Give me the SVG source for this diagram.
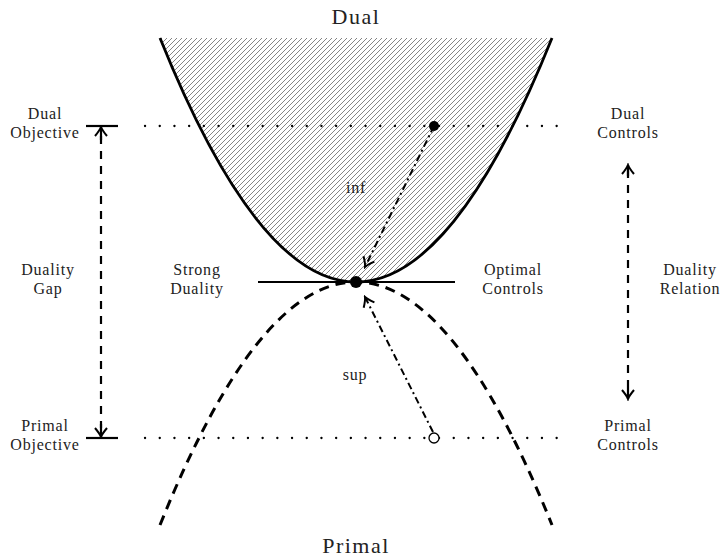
<svg xmlns="http://www.w3.org/2000/svg" width="722" height="558" viewBox="0 0 722 558">
<style>
text{font-family:"Liberation Serif","DejaVu Serif",serif;fill:#222;text-anchor:middle}
.lbl{font-size:16px;letter-spacing:0.8px}
.big{font-size:22px;letter-spacing:1.5px}
.dot{stroke:#000;stroke-width:2.3;stroke-dasharray:0.1,14.6;stroke-linecap:round;fill:none}
.dash{stroke:#000;stroke-width:2.2;stroke-dasharray:8,7;fill:none}
.dd{stroke:#000;stroke-width:2;stroke-dasharray:7,3.5,2,3.5;fill:none}
</style>
<defs>
<pattern id="hatch" patternUnits="userSpaceOnUse" width="5" height="5">
<path d="M-1,1 l2,-2 M0,5 l5,-5 M4,6 l2,-2" stroke="#666" stroke-width="0.8"/>
</pattern>
<marker id="arr" viewBox="-11 -7 13 14" markerWidth="13" markerHeight="14" refX="0" refY="0" orient="auto" markerUnits="userSpaceOnUse">
<path d="M-9,-6 Q-3,-1 0,0 Q-3,1 -9,6" fill="none" stroke="#000" stroke-width="2"/>
</marker>
</defs>
<g id="dual-region">
<path d="M160,38 Q356,526 552,38 Z" fill="url(#hatch)" stroke="none"/>
<path d="M160,38 Q356,526 552,38" fill="none" stroke="#000" stroke-width="2.8"/>
</g>
<g id="primal-curve">
<path d="M160,525 Q356,39 552,525" fill="none" stroke="#000" stroke-width="3" stroke-dasharray="10,7"/>
</g>
<g id="levels">
<line class="dot" x1="145" y1="126" x2="570" y2="126"/>
<line class="dot" x1="145" y1="438" x2="570" y2="438"/>
<line x1="86" y1="126" x2="118" y2="126" stroke="#000" stroke-width="2.2"/>
<line x1="86" y1="438" x2="118" y2="438" stroke="#000" stroke-width="2.2"/>
</g>
<g id="tangent">
<line x1="258" y1="282" x2="455" y2="282" stroke="#000" stroke-width="2.2"/>
<circle cx="356" cy="282" r="6" fill="#000"/>
</g>
<g id="connectors">
<line class="dash" x1="101" y1="136" x2="101" y2="428"/>
<path d="M101,140 L101,127" stroke="#000" stroke-width="2.2" marker-end="url(#arr)"/>
<path d="M101,424 L101,437" stroke="#000" stroke-width="2.2" marker-end="url(#arr)"/>
<line class="dash" x1="628" y1="170" x2="628" y2="394"/>
<path d="M628,176 L628,165" stroke="#000" stroke-width="2.2" marker-end="url(#arr)"/>
<path d="M628,388 L628,399" stroke="#000" stroke-width="2.2" marker-end="url(#arr)"/>
<path class="dd" d="M434,126 L365,267" marker-end="url(#arr)"/>
<path class="dd" d="M433,432 L365,297" marker-end="url(#arr)"/>
</g>
<g id="points">
<circle cx="434" cy="126" r="5" fill="#000"/>
<circle cx="434" cy="438" r="5" fill="#fff" stroke="#000" stroke-width="1.3"/>
</g>
<g id="labels">
<text class="big" x="356" y="24">Dual</text>
<text class="big" x="356" y="553">Primal</text>
<text class="lbl" x="45" y="119">Dual</text>
<text class="lbl" x="45" y="138">Objective</text>
<text class="lbl" x="628" y="119">Dual</text>
<text class="lbl" x="628" y="138">Controls</text>
<text class="lbl" x="48" y="275">Duality</text>
<text class="lbl" x="48" y="294">Gap</text>
<text class="lbl" x="197" y="275">Strong</text>
<text class="lbl" x="197" y="294">Duality</text>
<text class="lbl" x="513" y="275">Optimal</text>
<text class="lbl" x="513" y="294">Controls</text>
<text class="lbl" x="690" y="275">Duality</text>
<text class="lbl" x="690" y="294">Relation</text>
<text class="lbl" x="45" y="431">Primal</text>
<text class="lbl" x="45" y="450">Objective</text>
<text class="lbl" x="628" y="431">Primal</text>
<text class="lbl" x="628" y="450">Controls</text>
<text class="lbl" x="356" y="193">inf</text>
<text class="lbl" x="355" y="380">sup</text>
</g>
</svg>
